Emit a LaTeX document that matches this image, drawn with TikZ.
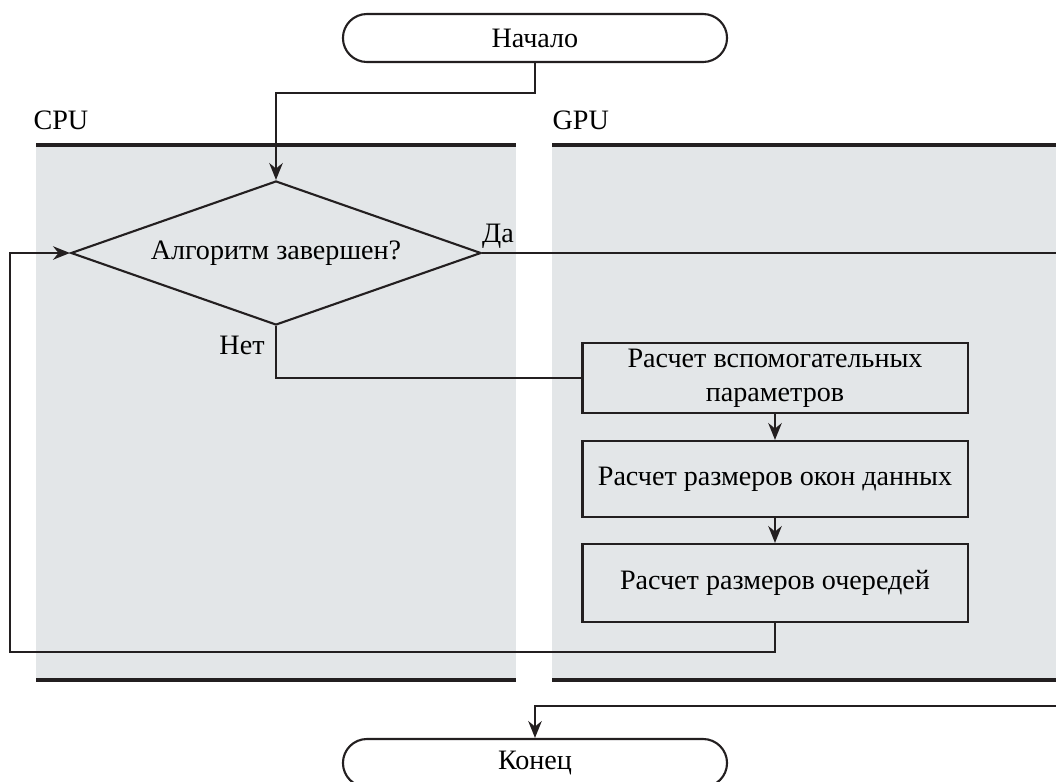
\documentclass[tikz,border=0pt]{standalone}
\usepackage{fontspec}
\setmainfont{Liberation Serif}
\usepackage{xcolor}
\usepackage{tikz}
\usetikzlibrary{arrows.meta,shapes.geometric,positioning}

\definecolor{lanegray}{RGB}{227,230,232}
\definecolor{inkline}{RGB}{35,31,32}

\tikzset{
	flow/.style={draw=inkline, line width=0.75pt},
	terminal/.style={flow, fill=white, rounded corners=0.3cm, minimum width=4.8cm, minimum height=0.6cm, inner sep=0pt},
	decision/.style={flow, fill=lanegray, diamond, aspect=2.85, minimum width=5.125cm, minimum height=1.8cm, inner sep=0pt},
	process/.style={flow, fill=lanegray, minimum width=4.8125cm, minimum height=0.93cm, align=center, inner sep=2pt},
	laneline/.style={draw=inkline, line width=1.1pt},
	lanelabel/.style={anchor=base west, inner sep=0pt},
	>={Stealth[length=6pt,width=4.8pt]}
}

\begin{document}
\begin{tikzpicture}[y=-0.0125cm,x=0.0125cm]
	\newcommand\CpuBand{+(0,0) rectangle +(480,535)}
	\newcommand\GpuBand{+(0,0) rectangle +(504,535)}

	\useasboundingbox (0,0) rectangle (1056,782);

	% lanes
	\fill[lanegray] (36,145) \CpuBand;
	\fill[lanegray] (552,145) \GpuBand;
	\draw[laneline] (36,145) -- (516,145);
	\draw[laneline] (36,680) -- (516,680);
	\draw[laneline] (552,145) -- (1056,145);
	\draw[laneline] (552,680) -- (1056,680);
	\node[lanelabel] (cpu) at (33,129) {CPU};
	\node[lanelabel] (gpu) at (552,129) {GPU};

	% blocks
	\node[terminal] (start) at (535,38) {Начало};
	\node[decision] (check) at (276,253) {Алгоритм завершен?};
	\node[process, minimum height=0.875cm] (params) at (775,378) {Расчет вспомогательных\\параметров};
	\node[process, minimum height=0.95cm] (windows) at (775,479) {Расчет размеров окон данных};
	\node[process, minimum height=0.975cm] (queues) at (775,583) {Расчет размеров очередей};
	\node[terminal] (finish) at (535,763) {Конец};

	\node (yes) at (498,236) {Да};
	\node (no) at (242,345) {Нет};

	\coordinate (loopcorner) at (10,652);
	\coordinate (yesdrop) at (1080,706);

	% connectors
	\draw[flow,->] (start.south) -- ++(0,30) -| (check.north);
	\draw[flow] (check.south) |- (params.west);
	\draw[flow,->] (params.south) -- (windows.north);
	\draw[flow,->] (windows.south) -- (queues.north);
	\draw[flow,->] (queues.south) |- (loopcorner) |- (check.west);
	\draw[flow,->] (check.east) -| (yesdrop) -| (finish.north);
\end{tikzpicture}
\end{document}
